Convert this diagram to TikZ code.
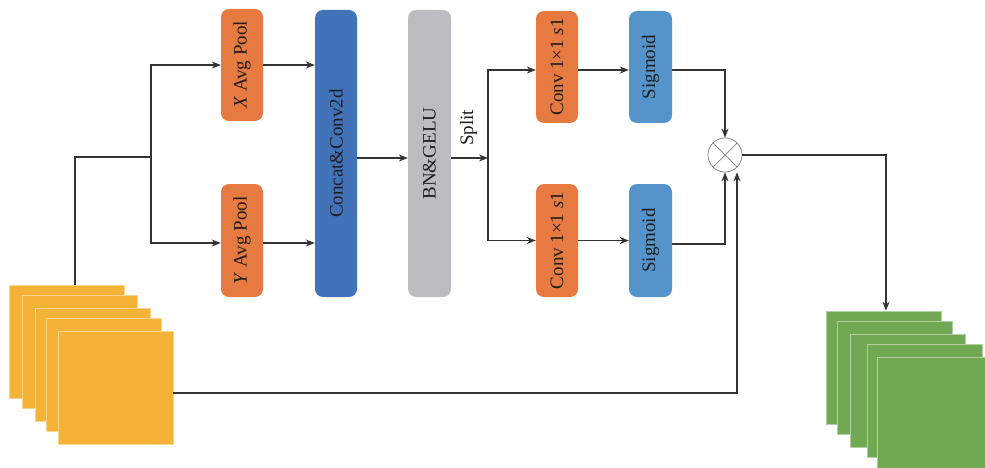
\documentclass[tikz,border=0pt]{standalone}
\usepackage{fontspec}
\setmainfont{Liberation Serif}
\usetikzlibrary{arrows.meta}
\definecolor{corange}{HTML}{E67A40}
\definecolor{cdblue}{HTML}{4272B8}
\definecolor{cgray}{HTML}{BCBDC0}
\definecolor{clblue}{HTML}{5593CB}
\definecolor{cyellow}{HTML}{F4B336}
\definecolor{cgreen}{HTML}{71A853}
\definecolor{cline}{HTML}{333333}
\definecolor{ctext}{HTML}{1E1E1E}
\begin{document}
\begin{tikzpicture}[x=1pt,y=-1pt,
  blockbox/.style={rounded corners=8pt, inner sep=0pt, minimum width=42pt, text=ctext,
    font=\fontsize{19}{22}\selectfont},
  ysq/.style={rectangle, fill=cyellow, draw=cyellow!55!white, line width=0.7pt,
    minimum width=115pt, minimum height=113pt, inner sep=0pt},
  gsq/.style={rectangle, fill=cgreen, draw=cgreen!55!white, line width=0.7pt,
    minimum width=115pt, minimum height=113pt, inner sep=0pt},
  conn/.style={draw=cline, line width=1.2pt},
  arr/.style={conn, -{Stealth[length=9pt,width=7pt]}}
]
\useasboundingbox (0,0) rectangle (985,468);
\begin{scope}
\clip (0,0) rectangle (985,468);
% input stack
\node[ysq] (y1) at (67,341.5) {};
\node[ysq] (y2) at (79.5,351.5) {};
\node[ysq] (y3) at (92.5,364.5) {};
\node[ysq] (y4) at (103.5,375) {};
\node[ysq] (y5) at (115.5,387.5) {};
% output stack
\node[gsq] (g1) at (884,367.5) {};
\node[gsq] (g2) at (895,377.5) {};
\node[gsq] (g3) at (907.5,390.5) {};
\node[gsq] (g4) at (924.5,401) {};
\node[gsq] (g5) at (934.5,413.5) {};
\end{scope}
% blocks
\node[blockbox, fill=corange, minimum height=112pt] (xp) at (242,65) {\rotatebox{90}{\textit{X} Avg Pool}};
\node[blockbox, fill=corange, minimum height=113pt] (yp) at (242,240.5) {\rotatebox{90}{\textit{Y} Avg Pool}};
\node[blockbox, fill=cdblue, minimum height=287pt] (cc) at (336,153.5) {\rotatebox{90}{Concat\&Conv2d}};
\node[blockbox, fill=cgray, minimum width=43pt, minimum height=287pt] (bn) at (429.5,153.5) {\rotatebox{90}{BN\&GELU}};
\node[blockbox, fill=corange, minimum height=112pt] (c1) at (557,67) {\rotatebox{90}{Conv 1×1 \textit{s}1}};
\node[blockbox, fill=corange, minimum height=113pt] (c2) at (557,240.5) {\rotatebox{90}{Conv 1×1 \textit{s}1}};
\node[blockbox, fill=clblue, minimum width=43pt, minimum height=112pt] (s1) at (650.5,67) {\rotatebox{90}{Sigmoid}};
\node[blockbox, fill=clblue, minimum width=43pt, minimum height=113pt] (s2) at (650.5,240.5) {\rotatebox{90}{Sigmoid}};
\node[circle, draw=gray, line width=0.7pt, minimum size=34pt, inner sep=0pt] (mul) at (725,155) {};
\draw[gray, line width=0.7pt] (mul.north west) -- (mul.south east) (mul.north east) -- (mul.south west);
\node[text=ctext, font=\fontsize{19}{22}\selectfont, inner sep=0pt] (splitlbl) at (468.5,128) {\rotatebox{90}{Split}};
% junctions
\coordinate (j0) at (151,157);
\coordinate (sp) at (488,158);
% connectors
\draw[conn] ([xshift=8pt]y1.north) |- (j0);
\draw[arr] (j0) |- (xp.west);
\draw[arr] (j0) |- ([yshift=-2.5pt]yp.west);
\draw[arr] (xp.east) -- (xp.east -| cc.west);
\draw[arr] ([yshift=-2.5pt]yp.east) -- ([yshift=-2.5pt]yp.east -| cc.west);
\draw[arr] ([yshift=-4.5pt]cc.east) -- ([yshift=-4.5pt]bn.west);
\draw[arr] ([yshift=-4.5pt]bn.east) -- (sp);
\draw[arr] (sp) |- ([yshift=-3pt]c1.west);
\draw[arr] (sp) |- (c2.west);
\draw[arr] ([yshift=-3pt]c1.east) -- ([yshift=-3pt]s1.west);
\draw[arr] (c2.east) -- (s2.west);
\draw[arr] ([yshift=-3pt]s1.east) -| (mul.north);
\draw[arr] ([yshift=-3.5pt]s2.east) -| (mul.south);
\draw[arr] ([yshift=-5.5pt]y5.east) -| ([xshift=12pt]mul.south);
\draw[arr] (mul.east) -| ([xshift=2pt]g1.north);
\end{tikzpicture}
\end{document}
